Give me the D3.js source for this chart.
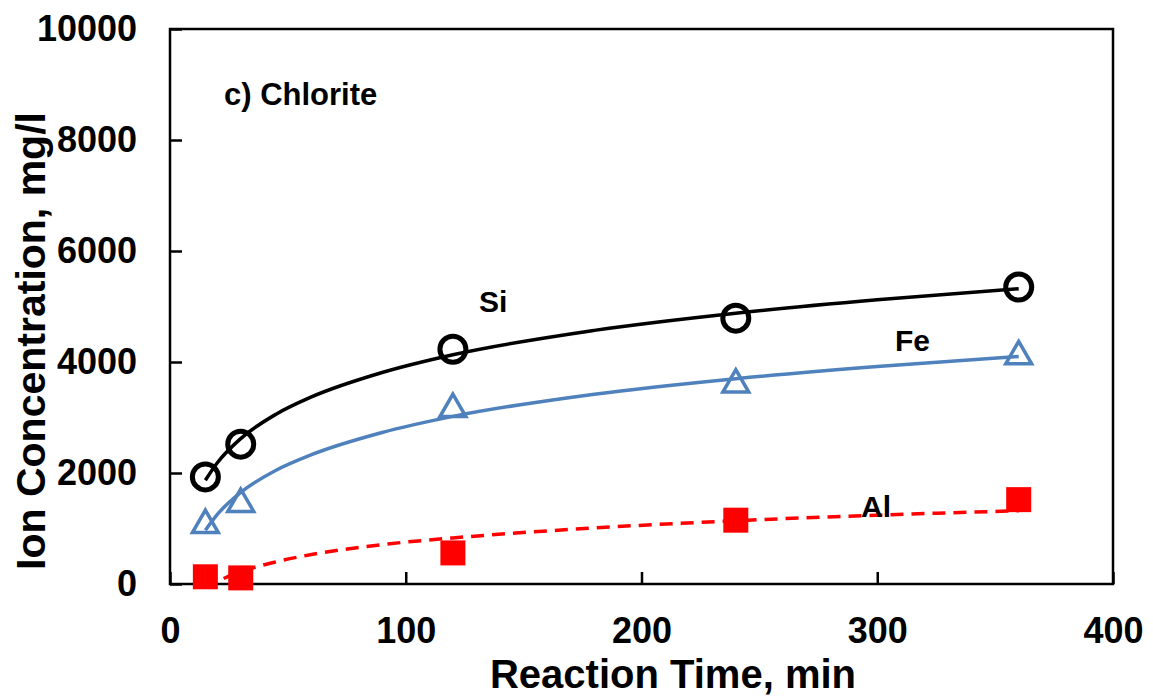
<!DOCTYPE html>
<html>
<head>
<meta charset="utf-8">
<script src="https://cdn.jsdelivr.net/npm/d3@7"></script>
<style>
  body { margin: 0; background: #fff; }
  svg { display: block; }
  text { font-family: "Liberation Sans", Arial, sans-serif; font-weight: bold; fill: #000; }
</style>
</head>
<body>
<svg id="canvas"></svg>
<script>
// Canvas size
var canvasWidth = 1153;
var canvasHeight = 698;

// Plot area edges
var margin = { top: 29, right: 40, bottom: 114, left: 170 };

// Measured points
var times = [15, 30, 120, 240, 360];
var siValues = [1930, 2520, 4230, 4790, 5350];
var feValues = [1080, 1460, 3170, 3610, 4120];
var alValues = [130, 110, 560, 1150, 1520];

// Trend lines
var trendTimes = [15, 20, 30, 45, 60, 90, 120, 180, 240, 300, 360];
var siTrend = [1870, 2180, 2620, 3060, 3370, 3810, 4130, 4570, 4880, 5120, 5320];
var feTrend = [970, 1250, 1650, 2050, 2330, 2730, 3020, 3420, 3700, 3920, 4100];
var alTrend = [-90, 40, 220, 400, 530, 710, 830, 1010, 1140, 1240, 1320];

// Axis ticks
var xTicks = [0, 100, 200, 300, 400];
var yTicks = [0, 2000, 4000, 6000, 8000, 10000];

var blue = '#4f81bd';
var red = '#ff0000';

var svg = d3.select('#canvas')
  .attr('width', canvasWidth)
  .attr('height', canvasHeight);

var x = d3.scaleLinear()
  .domain([0, 400])
  .range([margin.left, canvasWidth - margin.right]);

var y = d3.scaleLinear()
  .domain([0, 10000])
  .range([canvasHeight - margin.bottom, margin.top]);

svg.append('defs').append('clipPath')
  .attr('id', 'plot-clip')
  .append('rect')
  .attr('x', x(0))
  .attr('y', y(10000))
  .attr('width', x(400) - x(0))
  .attr('height', y(0) - y(10000));

// Axes
var xAxis = d3.axisBottom(x)
  .tickValues(xTicks)
  .tickFormat(d3.format('d'))
  .tickSizeInner(-12)
  .tickSizeOuter(0)
  .tickPadding(33);

var yAxis = d3.axisLeft(y)
  .tickValues(yTicks)
  .tickFormat(d3.format('d'))
  .tickSizeInner(-12)
  .tickSizeOuter(0)
  .tickPadding(33);

var gx = svg.append('g')
  .attr('transform', 'translate(0,' + y(0) + ')')
  .call(xAxis);

var gy = svg.append('g')
  .attr('transform', 'translate(' + x(0) + ',0)')
  .call(yAxis);

[gx, gy].forEach(function(g) {
  g.select('.domain').remove();
  g.selectAll('line').attr('stroke', '#000').attr('stroke-width', 2.5);
  g.selectAll('text').style('font-size', '36px').attr('fill', '#000');
});

// Frame
svg.append('rect')
  .attr('x', x(0))
  .attr('y', y(10000))
  .attr('width', x(400) - x(0))
  .attr('height', y(0) - y(10000))
  .attr('fill', 'none')
  .attr('stroke', '#000')
  .attr('stroke-width', 2.5);

// Axis titles
svg.append('text')
  .attr('x', 673)
  .attr('y', 688)
  .attr('text-anchor', 'middle')
  .style('font-size', '40px')
  .text('Reaction Time, min');

svg.append('text')
  .attr('transform', 'translate(45,341) rotate(-90)')
  .attr('text-anchor', 'middle')
  .style('font-size', '41px')
  .text('Ion Concentration, mg/l');

// Trend lines
function trendLine(values) {
  return d3.line()
    .x(function(d, i) { return x(trendTimes[i]); })
    .y(function(d) { return y(d); })
    .curve(d3.curveMonotoneX)(values);
}

var lines = svg.append('g').attr('clip-path', 'url(#plot-clip)');

lines.append('path')
  .attr('d', trendLine(siTrend))
  .attr('fill', 'none')
  .attr('stroke', '#000')
  .attr('stroke-width', 3.5);

lines.append('path')
  .attr('d', trendLine(feTrend))
  .attr('fill', 'none')
  .attr('stroke', blue)
  .attr('stroke-width', 3.5);

lines.append('path')
  .attr('d', trendLine(alTrend))
  .attr('fill', 'none')
  .attr('stroke', red)
  .attr('stroke-width', 3.5)
  .attr('stroke-dasharray', '13,8');

// Markers
svg.append('g').selectAll('circle')
  .data(siValues)
  .enter()
  .append('circle')
  .attr('cx', function(d, i) { return x(times[i]); })
  .attr('cy', function(d) { return y(d); })
  .attr('r', 13)
  .attr('fill', 'none')
  .attr('stroke', '#000')
  .attr('stroke-width', 5);

var triangle = d3.symbol().type(d3.symbolTriangle).size(290);

svg.append('g').selectAll('path')
  .data(feValues)
  .enter()
  .append('path')
  .attr('d', triangle)
  .attr('transform', function(d, i) {
    return 'translate(' + x(times[i]) + ',' + (y(d) + 1) + ')';
  })
  .attr('fill', 'none')
  .attr('stroke', blue)
  .attr('stroke-width', 3.5);

var squareSize = 25;
svg.append('g').selectAll('rect')
  .data(alValues)
  .enter()
  .append('rect')
  .attr('x', function(d, i) { return x(times[i]) - squareSize / 2; })
  .attr('y', function(d) { return y(d) - squareSize / 2; })
  .attr('width', squareSize)
  .attr('height', squareSize)
  .attr('fill', red);

// Labels
svg.append('text')
  .attr('x', 224)
  .attr('y', 105)
  .style('font-size', '31px')
  .text('c) Chlorite');

svg.append('text')
  .attr('x', 479)
  .attr('y', 312)
  .style('font-size', '30px')
  .text('Si');

svg.append('text')
  .attr('x', 895)
  .attr('y', 351)
  .style('font-size', '30px')
  .text('Fe');

svg.append('text')
  .attr('x', 861)
  .attr('y', 517)
  .style('font-size', '30px')
  .text('Al');
</script>
</body>
</html>
